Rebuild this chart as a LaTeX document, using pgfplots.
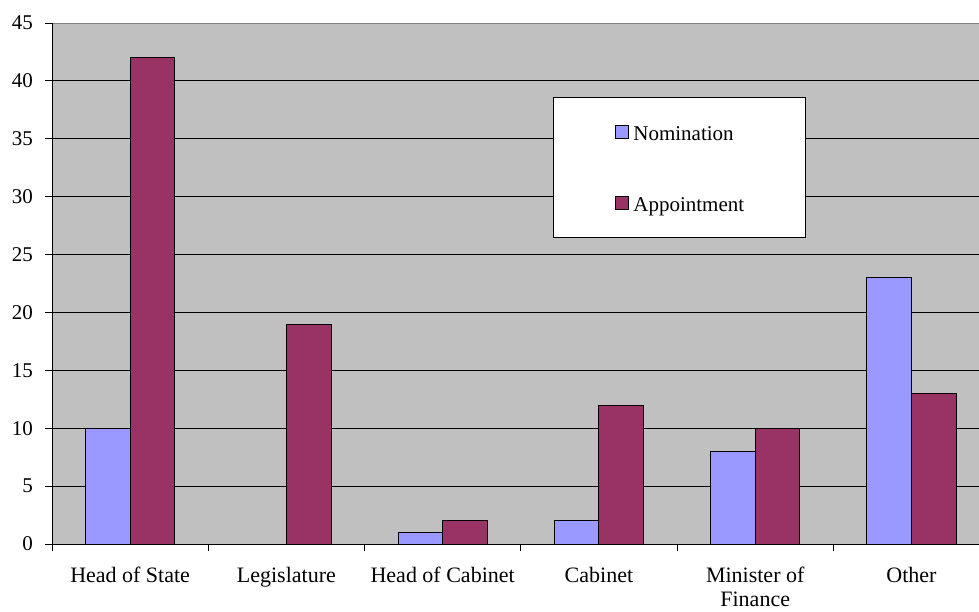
\documentclass[border=0pt]{standalone}
\usepackage{fontspec}
\setmainfont{Liberation Serif}
\usepackage{pgfplots}
\pgfplotsset{compat=1.18}
\definecolor{bgc}{HTML}{C0C0C0}
\definecolor{nomc}{HTML}{9999FF}
\definecolor{appc}{HTML}{993366}
\begin{document}
\begin{tikzpicture}
\begin{axis}[
  scale only axis, width=937.6pt, height=521pt,
  ybar=0pt, bar width=44.6pt,
  xmin=-0.5, xmax=5.5, ymin=0, ymax=45,
  enlargelimits=false,
  axis x line*=bottom, axis y line*=left,
  axis line style={-, black, line width=0.9pt},
  axis background/.style={fill=bgc, draw=gray, line width=0.9pt},
  xtick={-0.5,0.5,...,4.5},
  xticklabels={Head of State, Legislature, Head of Cabinet, Cabinet, {Minister of\\Finance}, Other},
  ytick={0,5,...,40},
  extra y ticks={45},
  extra y tick style={grid=none},
  major tick length=7pt,
  tick align=outside,
  tick style={black, line width=0.9pt},
  ymajorgrids, grid style={black, line width=0.9pt},
  /pgf/number format/assume math mode=true,
  yticklabel style={font=\fontsize{21}{24}\selectfont, anchor=east, inner sep=0pt, xshift=-12pt},
  xticklabel style={font=\fontsize{22}{23.5}\selectfont, align=center, anchor=north, inner sep=0pt, xshift=78.13pt, yshift=-16pt},
  legend style={at={(0.5344,0.858)}, anchor=north west, draw=black, fill=white, line width=0.9pt,
    inner xsep=61pt, inner ysep=23.2pt, row sep=48.4pt, font=\fontsize{21}{24}\selectfont,
    nodes={inner sep=0pt, text height=20pt, text depth=2.6pt},
    /tikz/every odd column/.append style={column sep=5pt}},
  legend cell align=left,
  legend image code/.code={\draw[#1, line width=0.9pt] (0pt,-7pt) rectangle (13pt,6pt);},
]
\addplot[fill=nomc, draw=black, line width=0.9pt] coordinates {(0,10) (1,0) (2,1) (3,2) (4,8) (5,23)};
\addplot[fill=appc, draw=black, line width=0.9pt] coordinates {(0,42) (1,19) (2,2) (3,12) (4,10) (5,13)};
\legend{Nomination, Appointment}
\end{axis}
\pgfresetboundingbox
\path ([shift={(-52pt,-67pt)}]current axis.south west) rectangle ([shift={(-10.6pt,23pt)}]current axis.north east);
\end{tikzpicture}
\end{document}
